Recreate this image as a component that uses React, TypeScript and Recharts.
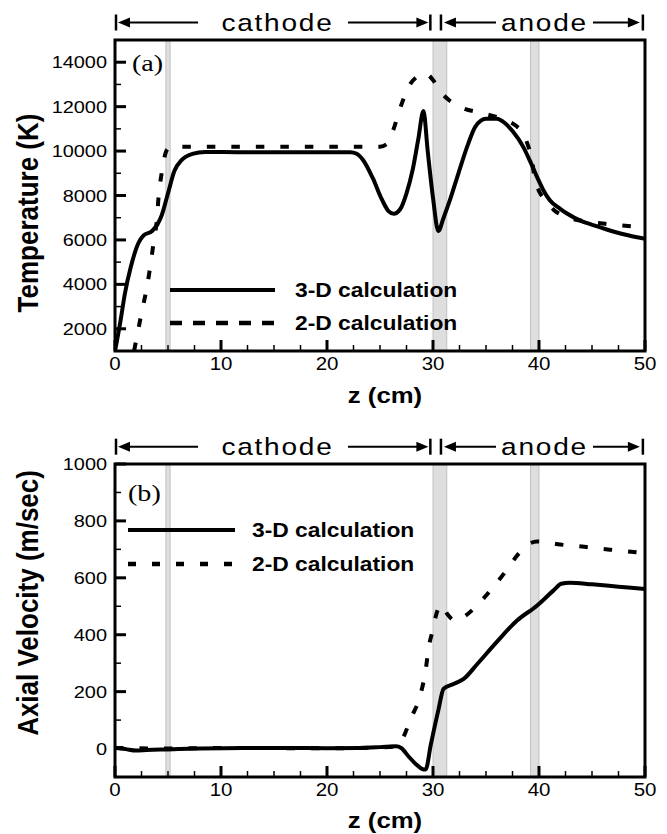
import React from 'react';
import { LineChart, Line, XAxis, YAxis, ReferenceArea } from 'recharts';

// ---- axial position ticks (cm) ----
const zMajorTicks = [0, 10, 20, 30, 40, 50];
const zAllTicks = [0, 2.5, 5, 7.5, 10, 12.5, 15, 17.5, 20, 22.5, 25, 27.5, 30, 32.5, 35, 37.5, 40, 42.5, 45, 47.5, 50];

// ---- temperature ticks (K) ----
const tempMajorTicks = [2000, 4000, 6000, 8000, 10000, 12000, 14000];
const tempAllTicks = [1000, 2000, 3000, 4000, 5000, 6000, 7000, 8000, 9000, 10000, 11000, 12000, 13000, 14000, 15000];

// ---- velocity ticks (m/sec) ----
const velMajorTicks = [0, 200, 400, 600, 800, 1000];
const velAllTicks = [-100, 0, 100, 200, 300, 400, 500, 600, 700, 800, 900, 1000];

// ---- electrode gaps (cm) ----
const gapStart = [4.8, 30, 39.2];
const gapEnd = [5.2, 31.3, 40];

// ---- temperature, 3-D calculation ----
const zTemp3D = [0, 0.5, 0.94, 1.5, 2.2, 2.7, 3.5, 4.0, 4.4, 5.0, 5.6, 6.3, 7.3, 8.5, 12, 18, 22.2, 22.8, 23.4, 24.3, 25.2, 25.8, 26.3, 26.9, 27.5, 28.1, 28.6, 29.1, 29.5, 30.0, 30.5, 31.0, 31.6, 32.4, 33.3, 34.0, 35.0, 36.0, 36.8, 37.5, 38.5, 39.2, 39.8, 40.4, 41.0, 42.0, 42.6, 44.0, 45.1, 47.0, 48.5, 50.0];
const temp3D = [1000, 2300, 3600, 4800, 5850, 6200, 6400, 6700, 7100, 8100, 9100, 9600, 9870, 9960, 9950, 9950, 9950, 9880, 9600, 8800, 7800, 7300, 7180, 7380, 8100, 9200, 10500, 11800, 10000, 7900, 6400, 7000, 7800, 9000, 10300, 11100, 11450, 11450, 11250, 10900, 10200, 9500, 8850, 8250, 7800, 7400, 7200, 6850, 6670, 6380, 6200, 6050];

// ---- temperature, 2-D calculation ----
const zTemp2D = [1.8, 2.5, 3.05, 3.3, 3.7, 3.95, 4.1, 4.4, 4.8, 5.1, 6, 15, 25, 25.6, 26.25, 26.9, 27.7, 28.5, 29.25, 30.0, 30.66, 31.5, 32.5, 34.7, 36.8, 37.8, 38.5, 39.0, 39.3, 39.6, 40.0, 40.6, 41.4, 42.5, 44.5, 46.7, 50.0];
const temp2D = [1000, 2700, 3975, 4725, 6075, 6900, 7875, 9000, 9950, 10150, 10200, 10200, 10200, 10300, 10950, 11925, 12900, 13350, 13500, 13200, 12700, 12300, 12000, 11700, 11400, 11150, 10800, 10200, 9750, 8700, 8200, 7800, 7350, 7050, 6830, 6700, 6560];

// ---- axial velocity, 3-D calculation ----
const zVel3D = [0, 1, 2, 3, 5, 8, 12, 16, 20, 23, 25, 26.5, 27.0, 27.7, 28.4, 29.0, 29.3, 29.8, 30.5, 31.0, 32.0, 32.9, 34.2, 36.0, 37.9, 39.8, 41.35, 42.1, 42.9, 45, 47.5, 50];
const vel3D = [3, -2, -7, -5, -3, 0, 2, 2, 1, 2, 5, 8, 2, -28, -55, -72, -74, 15, 134, 210, 228, 245, 298, 374, 449, 502, 555, 579, 583, 577, 569, 561];

// ---- axial velocity, 2-D calculation ----
const zVel2D = [0, 5, 10, 20, 25, 26.5, 27.2, 27.9, 28.8, 29.3, 29.6, 30.0, 30.3, 30.8, 31.4, 32.1, 33.0, 33.8, 35.4, 36.8, 38.2, 39.2, 39.8, 42, 44.3, 46.7, 50];
const vel2D = [2, 0, 2, 1, 4, 8, 40, 105, 187, 274, 356, 420, 470, 505, 470, 449, 465, 490, 555, 620, 690, 722, 728, 717, 709, 699, 687];

const zip = (zs: number[], vs: number[]) => zs.map((z, i) => ({ z, v: vs[i] }));

// ---- layout ----
const W = 667;
const H = 834;
const PANEL_H = 417;
const PLOT_L = 115;
const PLOT_R = 645;
const SX = 1.17; // horizontal widening applied to all glyphs
const SANS = '"Liberation Sans", Arial, sans-serif';
const SERIF = '"Liberation Serif", "Times New Roman", serif';
const CURVE_DASH = '8.5 16';

const zx = (z: number) => PLOT_L + (z / 50) * (PLOT_R - PLOT_L);

type TxtProps = {
  x: number;
  y: number;
  size: number;
  anchor?: 'start' | 'middle' | 'end';
  bold?: boolean;
  family?: string;
  spacing?: number;
  children: React.ReactNode;
};
const Txt = ({ x, y, size, anchor = 'start', bold, family = SANS, spacing, children }: TxtProps) => (
  <text
    transform={`translate(${x} ${y}) scale(${SX} 1)`}
    textAnchor={anchor}
    fontSize={size}
    fontWeight={bold ? 'bold' : 'normal'}
    fontFamily={family}
    letterSpacing={spacing}
    fill="#000"
  >
    {children}
  </text>
);

const makeXTick = () => (props: any) => {
  const { x, y, payload } = props;
  const major = zMajorTicks.includes(payload.value);
  return (
    <g>
      <line x1={x} x2={x} y1={y} y2={y - (major ? 11 : 6)} stroke="#000" strokeWidth={major ? 3 : 1.5} />
      {major && (
        <Txt x={x} y={y + 19} size={17.5} anchor="middle">
          {payload.value}
        </Txt>
      )}
    </g>
  );
};

const makeYTick = (majors: number[]) => (props: any) => {
  const { x, y, payload } = props;
  const major = majors.includes(payload.value);
  return (
    <g>
      <line x1={x} x2={x + (major ? 11 : 6)} y1={y} y2={y} stroke="#000" strokeWidth={major ? 3 : 1.5} />
      {major && (
        <Txt x={x - 8} y={y + 6} size={17} anchor="end">
          {payload.value}
        </Txt>
      )}
    </g>
  );
};

const Arrow = ({ tip, y, dir }: { tip: number; y: number; dir: 1 | -1 }) => (
  <polygon points={`${tip},${y} ${tip - dir * 12},${y - 5} ${tip - dir * 12},${y + 5}`} fill="#000" />
);

const Bar = ({ x, y }: { x: number; y: number }) => (
  <line x1={x} x2={x} y1={y - 8} y2={y + 8} stroke="#000" strokeWidth={2.5} />
);

// electrode span header: |<-- cathode -->| |<-- anode -->|
const Header = ({ y }: { y: number }) => (
  <g>
    <Bar x={zx(0) + 1} y={y} />
    <Arrow tip={zx(0) + 3} y={y} dir={-1} />
    <line x1={zx(0) + 12} x2={198} y1={y} y2={y} stroke="#000" strokeWidth={2} />
    <Txt x={277.5} y={y + 8.5} size={24} anchor="middle" spacing={1.5}>
      cathode
    </Txt>
    <line x1={348} x2={418} y1={y} y2={y} stroke="#000" strokeWidth={2} />
    <Arrow tip={zx(29.75) - 2} y={y} dir={1} />
    <Bar x={zx(29.75)} y={y} />
    <Bar x={zx(30.75)} y={y} />
    <Arrow tip={zx(30.75) + 3} y={y} dir={-1} />
    <line x1={zx(30.75) + 12} x2={496} y1={y} y2={y} stroke="#000" strokeWidth={2} />
    <Txt x={544.5} y={y + 8.5} size={24} anchor="middle" spacing={1.5}>
      anode
    </Txt>
    <line x1={593} x2={630} y1={y} y2={y} stroke="#000" strokeWidth={2} />
    <Arrow tip={zx(49.8) - 3} y={y} dir={1} />
    <Bar x={zx(49.8)} y={y} />
  </g>
);

type LegendProps = { x0: number; x1: number; tx: number; y1: number; y2: number; dash: string };
const Legend = ({ x0, x1, tx, y1, y2, dash }: LegendProps) => (
  <g>
    <line x1={x0} x2={x1} y1={y1} y2={y1} stroke="#000" strokeWidth={4} />
    <Txt x={tx} y={y1 + 7} size={19.5} bold>
      3-D calculation
    </Txt>
    <line x1={x0} x2={x1} y1={y2} y2={y2} stroke="#000" strokeWidth={4.5} strokeDasharray={dash} />
    <Txt x={tx} y={y2 + 7} size={19.5} bold>
      2-D calculation
    </Txt>
  </g>
);

const YTitle = ({ x, y, children }: { x: number; y: number; children: React.ReactNode }) => (
  <text
    transform={`translate(${x} ${y}) scale(${SX} 1) rotate(-90)`}
    textAnchor="middle"
    fontSize={26}
    fontWeight="bold"
    fontFamily={SANS}
    fill="#000"
  >
    {children}
  </text>
);

type PanelProps = {
  top: number;
  marginTop: number;
  xAxisHeight: number;
  yDomain: [number, number];
  yAll: number[];
  yMajor: number[];
  solid: { z: number; v: number }[];
  dashed: { z: number; v: number }[];
};

const Panel = ({ top, marginTop, xAxisHeight, yDomain, yAll, yMajor, solid, dashed }: PanelProps) => (
  <div style={{ position: 'absolute', left: 0, top }}>
    <LineChart width={W} height={PANEL_H} margin={{ top: marginTop, right: W - PLOT_R, bottom: 0, left: 0 }}>
      <XAxis
        type="number"
        dataKey="z"
        domain={[0, 50]}
        ticks={zAllTicks}
        interval={0}
        allowDataOverflow
        axisLine={false}
        tickLine={false}
        tickSize={0}
        tickMargin={0}
        height={xAxisHeight}
        tick={makeXTick()}
      />
      <YAxis
        type="number"
        domain={yDomain}
        ticks={yAll}
        interval={0}
        allowDataOverflow
        axisLine={false}
        tickLine={false}
        tickSize={0}
        tickMargin={0}
        width={PLOT_L}
        tick={makeYTick(yMajor)}
      />
      {gapStart.map((s, i) => (
        <ReferenceArea
          key={`gap${i}`}
          x1={s}
          x2={gapEnd[i]}
          y1={yDomain[0]}
          y2={yDomain[1]}
          fill="#dedede"
          fillOpacity={1}
          stroke="#c2c2c2"
          strokeWidth={1}
        />
      ))}
      <Line
        data={dashed}
        dataKey="v"
        type="monotone"
        stroke="#000"
        strokeWidth={4}
        strokeDasharray={CURVE_DASH}
        dot={false}
        activeDot={false}
        isAnimationActive={false}
      />
      <Line
        data={solid}
        dataKey="v"
        type="monotone"
        stroke="#000"
        strokeWidth={4}
        dot={false}
        activeDot={false}
        isAnimationActive={false}
      />
      <ReferenceArea
        x1={0}
        x2={50}
        y1={yDomain[0]}
        y2={yDomain[1]}
        fill="none"
        stroke="#000"
        strokeWidth={3}
      />
    </LineChart>
  </div>
);

export default function App() {
  return (
    <div style={{ position: 'absolute', left: 0, top: 0, width: W, height: H, background: '#fff' }}>
      <Panel
        top={0}
        marginTop={40}
        xAxisHeight={66}
        yDomain={[1000, 15000]}
        yAll={tempAllTicks}
        yMajor={tempMajorTicks}
        solid={zip(zTemp3D, temp3D)}
        dashed={zip(zTemp2D, temp2D)}
      />
      <Panel
        top={PANEL_H}
        marginTop={47}
        xAxisHeight={57}
        yDomain={[-100, 1000]}
        yAll={velAllTicks}
        yMajor={velMajorTicks}
        solid={zip(zVel3D, vel3D)}
        dashed={zip(zVel2D, vel2D)}
      />
      <svg
        width={W}
        height={H}
        style={{ position: 'absolute', left: 0, top: 0, pointerEvents: 'none' }}
      >
        <Header y={22.5} />
        <Header y={446.7} />
        <Txt x={132} y={71} size={24} family={SERIF}>
          (a)
        </Txt>
        <Txt x={128} y={501} size={24} family={SERIF}>
          (b)
        </Txt>
        <Legend x0={170} x1={275} tx={295} y1={290} y2={323} dash="12 11" />
        <Legend x0={128} x1={235} tx={252} y1={530} y2={564} dash="8 16" />
        <YTitle x={38} y={213}>
          Temperature (K)
        </YTitle>
        <YTitle x={38} y={603}>
          Axial Velocity (m/sec)
        </YTitle>
        <Txt x={385} y={403} size={22} anchor="middle" bold>
          z (cm)
        </Txt>
        <Txt x={385} y={828} size={22} anchor="middle" bold>
          z (cm)
        </Txt>
      </svg>
    </div>
  );
}
